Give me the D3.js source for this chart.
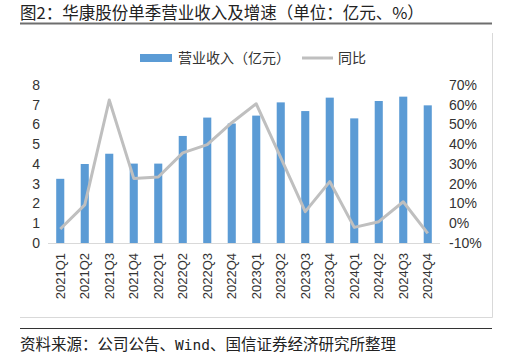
<html>
<head>
    <meta charset="utf-8">
    <title>华康股份单季营业收入及增速</title>
    <style>
        body { margin: 0; background: #fff; }
    </style>
</head>
<body>
    <script src="https://cdn.jsdelivr.net/npm/d3@7/dist/d3.min.js"></script>
    <script>
        var width = 514, height = 354;

        // 季度
        const quarters = ["2021Q1", "2021Q2", "2021Q3", "2021Q4", "2022Q1", "2022Q2", "2022Q3", "2022Q4",
            "2023Q1", "2023Q2", "2023Q3", "2023Q4", "2024Q1", "2024Q2", "2024Q3", "2024Q4"];
        // 营业收入（亿元）
        const revenue = [3.25, 4.0, 4.52, 4.02, 4.02, 5.42, 6.35, 6.05, 6.45, 7.12, 6.68, 7.36, 6.31, 7.19, 7.41, 6.97];
        // 同比（%）
        const yoy = [-2.9, 9.3, 62.4, 22.7, 23.4, 35.6, 39.8, 50.9, 60.5, 33.2, 5.9, 21.1, -2.1, 0.8, 10.9, -5.1];
        const leftTicks = [0, 1, 2, 3, 4, 5, 6, 7, 8];
        const rightTicks = [-10, 0, 10, 20, 30, 40, 50, 60, 70];

        var cjk = "'Noto Sans CJK SC', sans-serif";
        var latin = "'Liberation Sans', Arial, sans-serif";

        var svg = d3.select("body").append("svg")
            .attr("width", width)
            .attr("height", height);

        // 标题
        svg.append("text")
            .attr("x", 20).attr("y", 19)
            .attr("font-family", cjk).attr("font-size", "16.5px").attr("fill", "#222")
            .text("图2：华康股份单季营业收入及增速（单位：亿元、%）");
        svg.append("line")
            .attr("x1", 20).attr("x2", 492).attr("y1", 23.5).attr("y2", 23.5)
            .attr("stroke", "#6e6e6e").attr("stroke-width", 2);

        // 图框
        svg.append("path")
            .attr("d", "M492.5,33 V317.5 H20")
            .attr("fill", "none").attr("stroke", "#d9d9d9").attr("stroke-width", 1);

        // 比例尺
        var x = d3.scaleBand().domain(quarters).range([48, 440]).paddingInner(0.67).paddingOuter(0.335);
        var yL = d3.scaleLinear().domain([0, 8]).range([243, 85]);
        var yR = d3.scaleLinear().domain([-10, 70]).range([243, 85]);

        // 柱子
        svg.append("g").selectAll("rect")
            .data(revenue)
            .enter()
            .append("rect")
            .attr("x", (d, i) => x(quarters[i]))
            .attr("width", x.bandwidth())
            .attr("y", d => yL(d))
            .attr("height", d => yL(0) - yL(d))
            .attr("fill", "#5b9bd5");

        // 坐标轴
        svg.append("line")
            .attr("x1", 48).attr("x2", 440).attr("y1", 243.5).attr("y2", 243.5)
            .attr("stroke", "#d9d9d9").attr("stroke-width", 1);

        var axL = svg.append("g").attr("transform", "translate(40,0)")
            .call(d3.axisLeft(yL).tickValues(leftTicks).tickSize(0).tickPadding(0));
        axL.select(".domain").remove();
        axL.selectAll("text").attr("font-family", latin).attr("font-size", "14px").attr("fill", "#333");

        var axR = svg.append("g").attr("transform", "translate(449,0)")
            .call(d3.axisRight(yR).tickValues(rightTicks).tickSize(0).tickPadding(0).tickFormat(d => d + "%"));
        axR.select(".domain").remove();
        axR.selectAll("text").attr("font-family", latin).attr("font-size", "14px").attr("fill", "#333");

        var axB = svg.append("g").attr("transform", "translate(0,251)")
            .call(d3.axisBottom(x).tickSize(0).tickPadding(0));
        axB.select(".domain").remove();
        axB.selectAll("text")
            .attr("font-family", latin).attr("font-size", "13px").attr("fill", "#333")
            .attr("transform", "rotate(-90)")
            .attr("text-anchor", "end")
            .attr("x", -2).attr("y", 0).attr("dy", "0.35em");

        // 折线
        var line = d3.line()
            .x((d, i) => x(quarters[i]) + x.bandwidth() / 2)
            .y(d => yR(d));
        svg.append("path")
            .datum(yoy)
            .attr("d", line)
            .attr("fill", "none")
            .attr("stroke", "#bfbfbf")
            .attr("stroke-width", 3)
            .attr("stroke-linejoin", "round");

        // 图例
        var lg = svg.append("g");
        lg.append("rect").attr("x", 140).attr("y", 54).attr("width", 32).attr("height", 8).attr("fill", "#5b9bd5");
        lg.append("text").attr("x", 178).attr("y", 63)
            .attr("font-family", cjk).attr("font-size", "14px").attr("fill", "#333")
            .text("营业收入（亿元）");
        lg.append("line").attr("x1", 302).attr("x2", 333).attr("y1", 58).attr("y2", 58)
            .attr("stroke", "#bfbfbf").attr("stroke-width", 3);
        lg.append("text").attr("x", 338).attr("y", 63)
            .attr("font-family", cjk).attr("font-size", "14px").attr("fill", "#333")
            .text("同比");

        // 资料来源
        svg.append("line")
            .attr("x1", 20).attr("x2", 492).attr("y1", 328.5).attr("y2", 328.5)
            .attr("stroke", "#333").attr("stroke-width", 1.2);
        var src = svg.append("text")
            .attr("x", 20).attr("y", 349.5)
            .attr("font-family", cjk).attr("font-size", "15.5px").attr("fill", "#222");
        src.append("tspan").text("资料来源：公司公告、");
        src.append("tspan").attr("font-family", "'DejaVu Sans Mono', monospace").attr("font-size", "14.5px").text("Wind");
        src.append("tspan").text("、国信证券经济研究所整理");
    </script>
</body>
</html>
